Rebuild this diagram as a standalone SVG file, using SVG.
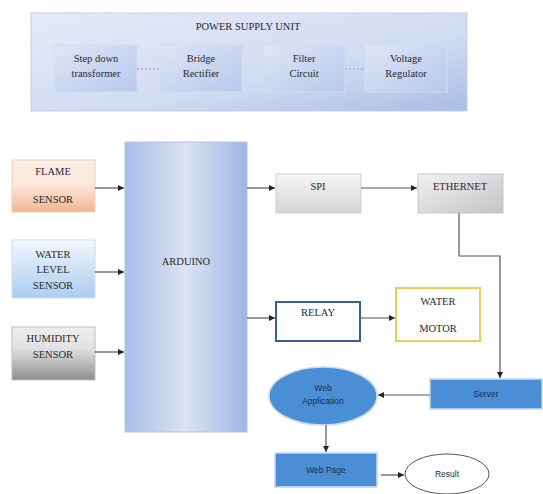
<svg xmlns="http://www.w3.org/2000/svg" width="543" height="494" viewBox="0 0 543 494">
<defs>
<linearGradient id="gPsu" x1="0" y1="0" x2="1" y2="1"><stop offset="0" stop-color="#e4eaf7"/><stop offset="0.6" stop-color="#d2dcf2"/><stop offset="1" stop-color="#a9bce6"/></linearGradient>
<linearGradient id="gIn" x1="0" y1="0" x2="1" y2="1"><stop offset="0" stop-color="#dfe6f6"/><stop offset="1" stop-color="#b8c8ec"/></linearGradient>
<linearGradient id="gFlame" x1="0" y1="0" x2="0" y2="1"><stop offset="0" stop-color="#fbeee6"/><stop offset="0.5" stop-color="#fbe6da"/><stop offset="1" stop-color="#f2b58f"/></linearGradient>
<linearGradient id="gWater" x1="0" y1="0" x2="0" y2="1"><stop offset="0" stop-color="#f3f8fd"/><stop offset="1" stop-color="#a9cdf0"/></linearGradient>
<linearGradient id="gHum" x1="0" y1="0" x2="0" y2="1"><stop offset="0" stop-color="#ededed"/><stop offset="0.4" stop-color="#e2e2e2"/><stop offset="1" stop-color="#8e8e8e"/></linearGradient>
<linearGradient id="gArd" x1="0" y1="0" x2="1" y2="0"><stop offset="0" stop-color="#a9bde8"/><stop offset="0.5" stop-color="#dbe3f4"/><stop offset="1" stop-color="#9fb5e6"/></linearGradient>
<linearGradient id="gGrey" x1="0" y1="0" x2="0" y2="1"><stop offset="0" stop-color="#f6f6f6"/><stop offset="1" stop-color="#d4d4d4"/></linearGradient>
<linearGradient id="gEth" x1="0" y1="0" x2="1" y2="1"><stop offset="0" stop-color="#f2f2f2"/><stop offset="1" stop-color="#c4c4c4"/></linearGradient>
<marker id="arr" viewBox="0 0 6 6" refX="6" refY="3" markerWidth="5" markerHeight="5" orient="auto"><path d="M0,0 L6,3 L0,6 z" fill="#222"/></marker>
</defs>
<style>
.t{font-family:"Liberation Serif","Times New Roman",serif;fill:#2a2a2a;text-anchor:middle;font-size:10.5px}
.s{font-family:"Liberation Sans",Arial,sans-serif;fill:#1d2e4a;text-anchor:middle;font-size:8.5px}
.ln{fill:none;stroke:#555;stroke-width:1.2}
.dot{fill:none;stroke:#a9b7d8;stroke-width:1.5;stroke-dasharray:2 2}
.blue{fill:#4a8fd6;stroke:#c9d9ee;stroke-width:1.5}
</style>
<rect width="543" height="494" fill="#ffffff"/>

<g id="psu">
<rect x="31" y="13" width="436" height="98" fill="url(#gPsu)" stroke="#c4cfe8" stroke-width="1"/>
<text class="t" x="248" y="30">POWER SUPPLY UNIT</text>
</g>
<g id="stepdown">
<rect x="55" y="45" width="82" height="47" fill="url(#gIn)" stroke="#d4dcef"/>
<text class="t" x="96" y="62">Step down</text>
<text class="t" x="96" y="77">transformer</text>
</g>
<g id="bridge">
<rect x="160" y="45" width="82" height="47" fill="url(#gIn)" stroke="#d4dcef"/>
<text class="t" x="201" y="62">Bridge</text>
<text class="t" x="201" y="77">Rectifier</text>
</g>
<g id="filter">
<rect x="263" y="45" width="82" height="47" fill="url(#gIn)" stroke="#d4dcef"/>
<text class="t" x="304" y="62">Filter</text>
<text class="t" x="304" y="77">Circuit</text>
</g>
<g id="regulator">
<rect x="365" y="45" width="82" height="47" fill="url(#gIn)" stroke="#d4dcef"/>
<text class="t" x="406" y="62">Voltage</text>
<text class="t" x="406" y="77">Regulator</text>
</g>

<g id="flame">
<rect x="12" y="160" width="83" height="52" fill="url(#gFlame)" stroke="#e6d2c6"/>
<text class="t" x="53" y="175">FLAME</text>
<text class="t" x="53" y="203">SENSOR</text>
</g>
<g id="waterlevel">
<rect x="12" y="240" width="83" height="58" fill="url(#gWater)" stroke="#cfdcea"/>
<text class="t" x="53" y="258">WATER</text>
<text class="t" x="53" y="273">LEVEL</text>
<text class="t" x="53" y="289">SENSOR</text>
</g>
<g id="humidity">
<rect x="12" y="327" width="83" height="53" fill="url(#gHum)" stroke="#bdbdbd"/>
<text class="t" x="53" y="342">HUMIDITY</text>
<text class="t" x="53" y="358">SENSOR</text>
</g>
<g id="arduino">
<rect x="125" y="142" width="122" height="290" fill="url(#gArd)" stroke="#b6c4e2"/>
<text class="t" x="186" y="265">ARDUINO</text>
</g>
<g id="spi">
<rect x="276" y="174" width="85" height="39" fill="url(#gGrey)" stroke="#d0d0d0"/>
<text class="t" x="318" y="190">SPI</text>
</g>
<g id="ethernet">
<rect x="418" y="174" width="85" height="39" fill="url(#gEth)" stroke="#c8c8c8"/>
<text class="t" x="460" y="190">ETHERNET</text>
</g>
<g id="relay">
<rect x="276" y="302" width="84" height="39" fill="#ffffff" stroke="#3a5f95" stroke-width="2"/>
<text class="t" x="318" y="316">RELAY</text>
</g>
<g id="motor">
<rect x="396" y="288" width="84" height="53" fill="#ffffff" stroke="#ecd24a" stroke-width="2"/>
<text class="t" x="438" y="305">WATER</text>
<text class="t" x="438" y="332">MOTOR</text>
</g>
<g id="server">
<rect x="430" y="379" width="112" height="30" class="blue"/>
<text class="s" x="486" y="397">Server</text>
</g>
<g id="webapp">
<ellipse cx="323" cy="396" rx="54" ry="29" class="blue"/>
<text class="s" x="323" y="391">Web</text>
<text class="s" x="323" y="404">Application</text>
</g>
<g id="webpage">
<rect x="275" y="453" width="102" height="34" class="blue"/>
<text class="s" x="326" y="473">Web Page</text>
</g>
<g id="result">
<ellipse cx="447" cy="474" rx="42" ry="20" fill="#ffffff" stroke="#555" stroke-width="1"/>
<text class="s" x="447" y="477">Result</text>
</g>

<g id="connectors">
<line class="dot" x1="137" y1="69" x2="160" y2="69"/>
<line class="dot" x1="345" y1="69" x2="365" y2="69"/>
<line class="ln" x1="95" y1="188" x2="124" y2="188" marker-end="url(#arr)"/>
<line class="ln" x1="95" y1="272" x2="124" y2="272" marker-end="url(#arr)"/>
<line class="ln" x1="95" y1="352" x2="124" y2="352" marker-end="url(#arr)"/>
<line class="ln" x1="247" y1="188" x2="275" y2="188" marker-end="url(#arr)"/>
<line class="ln" x1="361" y1="188" x2="417" y2="188" marker-end="url(#arr)"/>
<line class="ln" x1="247" y1="318" x2="275" y2="318" marker-end="url(#arr)"/>
<line class="ln" x1="360" y1="318" x2="395" y2="318" marker-end="url(#arr)"/>
<polyline class="ln" points="459,213 459,256 500,256 500,378" marker-end="url(#arr)"/>
<line class="ln" x1="430" y1="395" x2="378" y2="395" marker-end="url(#arr)"/>
<line class="ln" x1="326" y1="425" x2="326" y2="452" marker-end="url(#arr)"/>
<line class="ln" x1="381" y1="475" x2="404" y2="475" marker-end="url(#arr)"/>
</g>
</svg>
